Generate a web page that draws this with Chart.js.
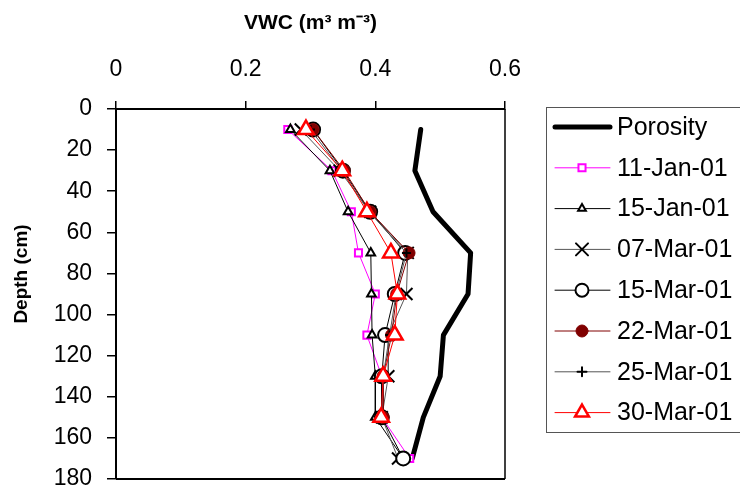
<!DOCTYPE html>
<html><head><meta charset="utf-8">
<script src="https://cdn.jsdelivr.net/npm/chart.js@4.4.1/dist/chart.umd.min.js"></script>
<style>html,body{margin:0;padding:0;background:#fff}</style>
</head><body>
<canvas id="c" width="740" height="492"></canvas>
<script>
// ---- data ----
const depths = [10, 30, 50, 70, 90, 110, 130, 150, 170];
const porosity = [0.470, 0.461, 0.489, 0.547, 0.543, 0.505, 0.500, 0.474, 0.457];
const jan11 = [0.265, 0.333, 0.363, 0.374, 0.400, 0.387, 0.410, 0.410, 0.453];
const jan15 = [0.269, 0.330, 0.358, 0.393, 0.394, 0.395, 0.400, 0.400, 0.443];
const mar07 = [0.285, 0.345, 0.392, 0.450, 0.448, 0.420, 0.420, 0.410, 0.435];
const mar15 = [0.304, 0.350, 0.392, 0.446, 0.430, 0.415, 0.410, 0.410, 0.443];
const mar22 = [0.304, 0.352, 0.392, 0.452, 0.433, 0.425, 0.412, 0.412, null];
const mar25 = [0.300, 0.348, 0.390, 0.448, 0.432, 0.422, 0.412, 0.410, null];
const mar30 = [0.293, 0.349, 0.387, 0.424, 0.434, 0.430, 0.412, 0.409, null];
const seriesNames = ['Porosity', '11-Jan-01', '15-Jan-01', '07-Mar-01', '15-Mar-01', '22-Mar-01', '25-Mar-01', '30-Mar-01'];
const xTicks = [0, 0.2, 0.4, 0.6];
const xTickLabels = ['0', '0.2', '0.4', '0.6'];
const yTicks = [0, 20, 40, 60, 80, 100, 120, 140, 160, 180];
const xTitle = 'VWC (m³ m⁻³)';
const yTitle = 'Depth (cm)';

// ---- styles ----
const seriesValues = [porosity, jan11, jan15, mar07, mar15, mar22, mar25, mar30];
const styles = [
  {line: '#000000', lw: 5, ps: 'circle', r: 0, bg: '#000', bc: '#000', bw: 0},
  {line: '#FF00FF', lw: 1, ps: 'rect', r: 5, bg: '#fff', bc: '#FF00FF', bw: 2},
  {line: '#000000', lw: 1, ps: 'triangle', r: 5, bg: '#fff', bc: '#000', bw: 2},
  {line: '#555555', lw: 1, ps: 'crossRot', r: 8.5, bg: '#000', bc: '#000', bw: 2},
  {line: '#000000', lw: 1, ps: 'circle', r: 7, bg: '#fff', bc: '#000', bw: 2},
  {line: '#800000', lw: 1, ps: 'circle', r: 6, bg: '#800000', bc: '#800000', bw: 1},
  {line: '#555555', lw: 1, ps: 'cross', r: 4.5, bg: '#000', bc: '#000', bw: 2},
  {line: '#FF0000', lw: 1, ps: 'triangle', r: 9, bg: '#fff', bc: '#FF0000', bw: 2.5}
];

const datasets = seriesNames.map((name, i) => {
  const s = styles[i];
  return {
    label: name,
    data: depths.map((d, k) => ({x: seriesValues[i][k], y: d})).filter(p => p.x !== null),
    borderColor: s.line,
    borderWidth: s.lw,
    borderCapStyle: 'round',
    borderJoinStyle: 'round',
    pointStyle: s.ps,
    pointRadius: s.r,
    pointHoverRadius: s.r,
    pointBackgroundColor: s.bg,
    pointBorderColor: s.bc,
    pointBorderWidth: s.bw,
    fill: false,
    tension: 0,
    order: seriesNames.length - i
  };
});

const FONT = 'Liberation Sans, Arial, sans-serif';
Chart.defaults.font.family = FONT;
Chart.defaults.color = '#000';

const framePlugin = {
  id: 'frame',
  afterDraw(chart) {
    const {ctx, chartArea: a} = chart;
    ctx.save();
    ctx.strokeStyle = '#000';
    ctx.lineWidth = 1.5;
    ctx.beginPath();
    ctx.moveTo(a.right, a.top);
    ctx.lineTo(a.right, a.bottom);
    ctx.stroke();
    ctx.lineWidth = 2;
    ctx.beginPath();
    ctx.moveTo(a.left, a.bottom);
    ctx.lineTo(a.right, a.bottom);
    ctx.stroke();
    // y axis title
    ctx.translate(22, 274);
    ctx.rotate(-Math.PI / 2);
    ctx.font = 'bold 19px ' + FONT;
    ctx.fillStyle = '#000';
    ctx.textAlign = 'center';
    ctx.textBaseline = 'middle';
    ctx.fillText(yTitle, 0, 0);
    ctx.restore();

    // legend
    ctx.save();
    ctx.strokeStyle = '#555';
    ctx.lineWidth = 1;
    ctx.strokeRect(546.5, 107.5, 210, 325);
    const ds = chart.data.datasets;
    ds.forEach((d, i) => {
      const y = 127 + i * 40.8;
      ctx.strokeStyle = d.borderColor;
      ctx.lineWidth = d.borderWidth;
      ctx.lineCap = 'round';
      ctx.beginPath();
      ctx.moveTo(555, y);
      ctx.lineTo(610, y);
      ctx.stroke();
      if (d.pointRadius > 0) {
        ctx.fillStyle = d.pointBackgroundColor;
        ctx.strokeStyle = d.pointBorderColor;
        ctx.lineWidth = d.pointBorderWidth;
        const r = (i === 2) ? 4.5 : (i === 4 ? 6.5 : (i === 7 ? 8 : d.pointRadius));
        Chart.helpers.drawPoint(ctx, {pointStyle: d.pointStyle, radius: r, rotation: 0, borderWidth: d.pointBorderWidth}, 582, y);
      }
      ctx.fillStyle = '#000';
      ctx.font = '25px ' + FONT;
      ctx.textAlign = 'left';
      ctx.textBaseline = 'middle';
      ctx.fillText(d.label, 617, y + 1);
    });
    ctx.restore();
  }
};

new Chart(document.getElementById('c'), {
  type: 'line',
  data: {datasets},
  options: {
    responsive: false,
    devicePixelRatio: 1,
    animation: false,
    events: [],
    layout: {padding: {left: 0, top: 0, right: 235, bottom: 13}},
    plugins: {legend: {display: false}, tooltip: {enabled: false}},
    scales: {
      x: {
        type: 'linear',
        position: 'top',
        min: 0, max: 0.6,
        afterBuildTicks: s => { s.ticks = xTicks.map(v => ({value: v})); },
        afterFit: s => { s.height = 109; s.paddingLeft = 0; s.paddingRight = 0; },
        ticks: {
          font: {size: 23},
          color: '#000',
          padding: 18,
          maxRotation: 0,
          callback: (v) => xTickLabels[xTicks.indexOf(v)] ?? String(v)
        },
        grid: {display: true, drawOnChartArea: false, drawTicks: true, tickLength: 8, color: '#000', lineWidth: 1.5},
        border: {display: true, color: '#000', width: 2},
        title: {display: true, text: xTitle, font: {size: 21, weight: 'bold'}, color: '#000', padding: {top: 11, bottom: 0}}
      },
      y: {
        type: 'linear',
        position: 'left',
        reverse: true,
        min: 0, max: 180,
        afterBuildTicks: s => { s.ticks = yTicks.map(v => ({value: v})); },
        afterFit: s => { s.width = 116; s.paddingTop = 0; s.paddingBottom = 0; },
        ticks: {font: {size: 23}, color: '#000', padding: 15},
        grid: {display: true, drawOnChartArea: false, drawTicks: true, tickLength: 9, color: '#000', lineWidth: 1.5},
        border: {display: true, color: '#000', width: 2}
      }
    }
  },
  plugins: [framePlugin]
});
</script>
</body></html>
